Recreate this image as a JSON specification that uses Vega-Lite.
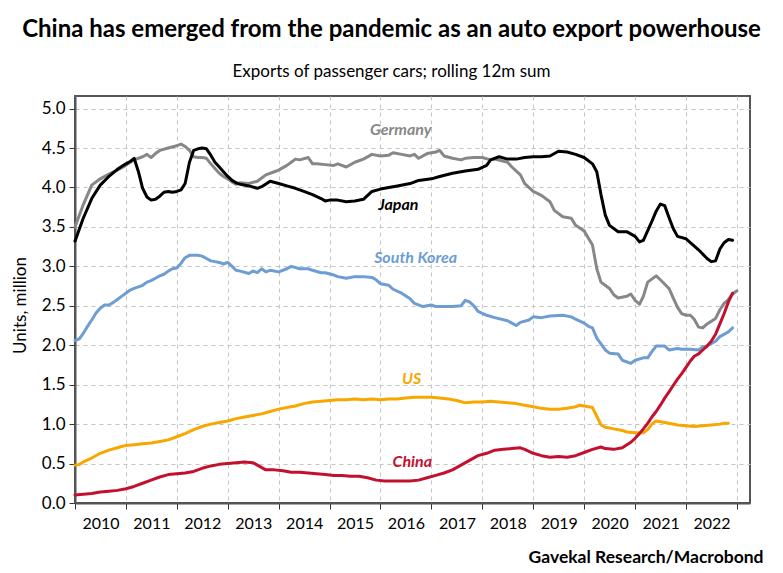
{
  "$schema": "https://vega.github.io/schema/vega-lite/v6.json",
  "width": 675,
  "height": 407,
  "autosize": {"type": "none"},
  "padding": {"left": 75, "top": 96, "right": 33, "bottom": 70},
  "background": "white",
  "config": {
    "font": "Lato, Liberation Sans, sans-serif",
    "view": {"stroke": "#555555", "strokeWidth": 2}
  },
  "title": {
    "text": "China has emerged from the pandemic as an auto export powerhouse",
    "subtitle": "Exports of passenger cars; rolling 12m sum",
    "anchor": "middle",
    "frame": "group",
    "dx": -21,
    "offset": 16,
    "font": "Lato, Liberation Sans, sans-serif",
    "subtitleFont": "Lato, Liberation Sans, sans-serif",
    "fontSize": 24,
    "fontWeight": "bold",
    "color": "#000000",
    "subtitleFontSize": 17,
    "subtitleColor": "#000000",
    "subtitlePadding": 22
  },
  "datasets": {
    "series": [
      {"country":"Germany","date":"2010-01","value":3.50},{"country":"Germany","date":"2010-03","value":3.78},{"country":"Germany","date":"2010-05","value":4.03},{"country":"Germany","date":"2010-07","value":4.11},{"country":"Germany","date":"2010-09","value":4.17},{"country":"Germany","date":"2010-11","value":4.22},{"country":"Germany","date":"2011-01","value":4.28},{"country":"Germany","date":"2011-02","value":4.32},{"country":"Germany","date":"2011-03","value":4.35},{"country":"Germany","date":"2011-05","value":4.39},{"country":"Germany","date":"2011-06","value":4.42},{"country":"Germany","date":"2011-07","value":4.38},{"country":"Germany","date":"2011-08","value":4.43},{"country":"Germany","date":"2011-09","value":4.47},{"country":"Germany","date":"2011-11","value":4.50},{"country":"Germany","date":"2012-01","value":4.53},{"country":"Germany","date":"2012-02","value":4.55},{"country":"Germany","date":"2012-03","value":4.52},{"country":"Germany","date":"2012-04","value":4.47},{"country":"Germany","date":"2012-05","value":4.39},{"country":"Germany","date":"2012-06","value":4.38},{"country":"Germany","date":"2012-07","value":4.38},{"country":"Germany","date":"2012-08","value":4.37},{"country":"Germany","date":"2012-09","value":4.30},{"country":"Germany","date":"2012-10","value":4.24},{"country":"Germany","date":"2012-11","value":4.18},{"country":"Germany","date":"2012-12","value":4.14},{"country":"Germany","date":"2013-01","value":4.11},{"country":"Germany","date":"2013-02","value":4.07},{"country":"Germany","date":"2013-03","value":4.04},{"country":"Germany","date":"2013-04","value":4.06},{"country":"Germany","date":"2013-06","value":4.05},{"country":"Germany","date":"2013-08","value":4.08},{"country":"Germany","date":"2013-10","value":4.16},{"country":"Germany","date":"2013-12","value":4.20},{"country":"Germany","date":"2014-01","value":4.22},{"country":"Germany","date":"2014-03","value":4.28},{"country":"Germany","date":"2014-04","value":4.32},{"country":"Germany","date":"2014-05","value":4.36},{"country":"Germany","date":"2014-06","value":4.35},{"country":"Germany","date":"2014-08","value":4.38},{"country":"Germany","date":"2014-09","value":4.30},{"country":"Germany","date":"2014-10","value":4.30},{"country":"Germany","date":"2014-12","value":4.29},{"country":"Germany","date":"2015-02","value":4.28},{"country":"Germany","date":"2015-03","value":4.30},{"country":"Germany","date":"2015-05","value":4.26},{"country":"Germany","date":"2015-07","value":4.32},{"country":"Germany","date":"2015-09","value":4.36},{"country":"Germany","date":"2015-11","value":4.42},{"country":"Germany","date":"2016-01","value":4.40},{"country":"Germany","date":"2016-03","value":4.41},{"country":"Germany","date":"2016-04","value":4.44},{"country":"Germany","date":"2016-06","value":4.42},{"country":"Germany","date":"2016-08","value":4.40},{"country":"Germany","date":"2016-09","value":4.42},{"country":"Germany","date":"2016-10","value":4.37},{"country":"Germany","date":"2016-12","value":4.43},{"country":"Germany","date":"2017-02","value":4.45},{"country":"Germany","date":"2017-03","value":4.47},{"country":"Germany","date":"2017-04","value":4.40},{"country":"Germany","date":"2017-06","value":4.37},{"country":"Germany","date":"2017-08","value":4.35},{"country":"Germany","date":"2017-09","value":4.37},{"country":"Germany","date":"2017-11","value":4.38},{"country":"Germany","date":"2018-01","value":4.38},{"country":"Germany","date":"2018-03","value":4.35},{"country":"Germany","date":"2018-04","value":4.36},{"country":"Germany","date":"2018-07","value":4.32},{"country":"Germany","date":"2018-08","value":4.26},{"country":"Germany","date":"2018-10","value":4.16},{"country":"Germany","date":"2018-11","value":4.05},{"country":"Germany","date":"2019-01","value":3.95},{"country":"Germany","date":"2019-03","value":3.90},{"country":"Germany","date":"2019-05","value":3.82},{"country":"Germany","date":"2019-06","value":3.71},{"country":"Germany","date":"2019-08","value":3.63},{"country":"Germany","date":"2019-10","value":3.61},{"country":"Germany","date":"2019-11","value":3.52},{"country":"Germany","date":"2020-01","value":3.45},{"country":"Germany","date":"2020-03","value":3.27},{"country":"Germany","date":"2020-04","value":2.97},{"country":"Germany","date":"2020-05","value":2.80},{"country":"Germany","date":"2020-07","value":2.72},{"country":"Germany","date":"2020-08","value":2.64},{"country":"Germany","date":"2020-09","value":2.60},{"country":"Germany","date":"2020-11","value":2.62},{"country":"Germany","date":"2020-12","value":2.65},{"country":"Germany","date":"2021-01","value":2.57},{"country":"Germany","date":"2021-02","value":2.52},{"country":"Germany","date":"2021-03","value":2.62},{"country":"Germany","date":"2021-04","value":2.80},{"country":"Germany","date":"2021-06","value":2.88},{"country":"Germany","date":"2021-07","value":2.83},{"country":"Germany","date":"2021-09","value":2.72},{"country":"Germany","date":"2021-10","value":2.60},{"country":"Germany","date":"2021-11","value":2.48},{"country":"Germany","date":"2021-12","value":2.40},{"country":"Germany","date":"2022-01","value":2.38},{"country":"Germany","date":"2022-02","value":2.38},{"country":"Germany","date":"2022-03","value":2.33},{"country":"Germany","date":"2022-04","value":2.23},{"country":"Germany","date":"2022-05","value":2.22},{"country":"Germany","date":"2022-06","value":2.27},{"country":"Germany","date":"2022-08","value":2.34},{"country":"Germany","date":"2022-09","value":2.45},{"country":"Germany","date":"2022-10","value":2.53},{"country":"Germany","date":"2022-11","value":2.58},{"country":"Germany","date":"2022-12","value":2.65},{"country":"Germany","date":"2023-01","value":2.69},
      {"country":"Japan","date":"2010-01","value":3.32},{"country":"Japan","date":"2010-03","value":3.61},{"country":"Japan","date":"2010-05","value":3.86},{"country":"Japan","date":"2010-07","value":4.03},{"country":"Japan","date":"2010-09","value":4.14},{"country":"Japan","date":"2010-11","value":4.23},{"country":"Japan","date":"2011-01","value":4.30},{"country":"Japan","date":"2011-02","value":4.33},{"country":"Japan","date":"2011-03","value":4.37},{"country":"Japan","date":"2011-04","value":4.20},{"country":"Japan","date":"2011-05","value":3.99},{"country":"Japan","date":"2011-06","value":3.88},{"country":"Japan","date":"2011-07","value":3.84},{"country":"Japan","date":"2011-08","value":3.85},{"country":"Japan","date":"2011-09","value":3.89},{"country":"Japan","date":"2011-10","value":3.94},{"country":"Japan","date":"2011-11","value":3.95},{"country":"Japan","date":"2011-12","value":3.94},{"country":"Japan","date":"2012-01","value":3.95},{"country":"Japan","date":"2012-02","value":3.97},{"country":"Japan","date":"2012-03","value":4.05},{"country":"Japan","date":"2012-04","value":4.32},{"country":"Japan","date":"2012-05","value":4.47},{"country":"Japan","date":"2012-06","value":4.49},{"country":"Japan","date":"2012-07","value":4.50},{"country":"Japan","date":"2012-08","value":4.49},{"country":"Japan","date":"2012-09","value":4.41},{"country":"Japan","date":"2012-10","value":4.32},{"country":"Japan","date":"2012-11","value":4.26},{"country":"Japan","date":"2012-12","value":4.20},{"country":"Japan","date":"2013-01","value":4.14},{"country":"Japan","date":"2013-02","value":4.09},{"country":"Japan","date":"2013-03","value":4.06},{"country":"Japan","date":"2013-04","value":4.04},{"country":"Japan","date":"2013-06","value":4.02},{"country":"Japan","date":"2013-08","value":3.99},{"country":"Japan","date":"2013-09","value":4.01},{"country":"Japan","date":"2013-11","value":4.08},{"country":"Japan","date":"2014-01","value":4.05},{"country":"Japan","date":"2014-03","value":4.02},{"country":"Japan","date":"2014-05","value":3.99},{"country":"Japan","date":"2014-07","value":3.95},{"country":"Japan","date":"2014-09","value":3.91},{"country":"Japan","date":"2014-11","value":3.86},{"country":"Japan","date":"2014-12","value":3.83},{"country":"Japan","date":"2015-01","value":3.84},{"country":"Japan","date":"2015-03","value":3.84},{"country":"Japan","date":"2015-05","value":3.82},{"country":"Japan","date":"2015-07","value":3.83},{"country":"Japan","date":"2015-09","value":3.85},{"country":"Japan","date":"2015-11","value":3.95},{"country":"Japan","date":"2016-01","value":3.98},{"country":"Japan","date":"2016-03","value":4.00},{"country":"Japan","date":"2016-05","value":4.02},{"country":"Japan","date":"2016-08","value":4.05},{"country":"Japan","date":"2016-10","value":4.09},{"country":"Japan","date":"2017-01","value":4.11},{"country":"Japan","date":"2017-03","value":4.14},{"country":"Japan","date":"2017-06","value":4.18},{"country":"Japan","date":"2017-09","value":4.21},{"country":"Japan","date":"2017-12","value":4.23},{"country":"Japan","date":"2018-02","value":4.28},{"country":"Japan","date":"2018-03","value":4.35},{"country":"Japan","date":"2018-05","value":4.39},{"country":"Japan","date":"2018-07","value":4.36},{"country":"Japan","date":"2018-09","value":4.36},{"country":"Japan","date":"2018-11","value":4.38},{"country":"Japan","date":"2019-01","value":4.39},{"country":"Japan","date":"2019-03","value":4.39},{"country":"Japan","date":"2019-05","value":4.40},{"country":"Japan","date":"2019-07","value":4.46},{"country":"Japan","date":"2019-09","value":4.45},{"country":"Japan","date":"2019-11","value":4.42},{"country":"Japan","date":"2020-01","value":4.38},{"country":"Japan","date":"2020-03","value":4.30},{"country":"Japan","date":"2020-04","value":4.20},{"country":"Japan","date":"2020-05","value":3.91},{"country":"Japan","date":"2020-06","value":3.65},{"country":"Japan","date":"2020-07","value":3.52},{"country":"Japan","date":"2020-09","value":3.44},{"country":"Japan","date":"2020-11","value":3.44},{"country":"Japan","date":"2021-01","value":3.38},{"country":"Japan","date":"2021-02","value":3.31},{"country":"Japan","date":"2021-03","value":3.33},{"country":"Japan","date":"2021-05","value":3.57},{"country":"Japan","date":"2021-06","value":3.70},{"country":"Japan","date":"2021-07","value":3.79},{"country":"Japan","date":"2021-08","value":3.77},{"country":"Japan","date":"2021-09","value":3.62},{"country":"Japan","date":"2021-10","value":3.48},{"country":"Japan","date":"2021-11","value":3.38},{"country":"Japan","date":"2022-01","value":3.35},{"country":"Japan","date":"2022-02","value":3.30},{"country":"Japan","date":"2022-04","value":3.21},{"country":"Japan","date":"2022-06","value":3.10},{"country":"Japan","date":"2022-07","value":3.06},{"country":"Japan","date":"2022-08","value":3.07},{"country":"Japan","date":"2022-09","value":3.22},{"country":"Japan","date":"2022-10","value":3.30},{"country":"Japan","date":"2022-11","value":3.34},{"country":"Japan","date":"2022-12","value":3.33},
      {"country":"South Korea","date":"2010-01","value":2.06},{"country":"South Korea","date":"2010-02","value":2.08},{"country":"South Korea","date":"2010-03","value":2.15},{"country":"South Korea","date":"2010-04","value":2.24},{"country":"South Korea","date":"2010-05","value":2.32},{"country":"South Korea","date":"2010-06","value":2.41},{"country":"South Korea","date":"2010-07","value":2.47},{"country":"South Korea","date":"2010-08","value":2.51},{"country":"South Korea","date":"2010-09","value":2.51},{"country":"South Korea","date":"2010-10","value":2.54},{"country":"South Korea","date":"2010-11","value":2.58},{"country":"South Korea","date":"2010-12","value":2.62},{"country":"South Korea","date":"2011-01","value":2.66},{"country":"South Korea","date":"2011-02","value":2.70},{"country":"South Korea","date":"2011-03","value":2.72},{"country":"South Korea","date":"2011-04","value":2.74},{"country":"South Korea","date":"2011-05","value":2.76},{"country":"South Korea","date":"2011-06","value":2.80},{"country":"South Korea","date":"2011-07","value":2.82},{"country":"South Korea","date":"2011-08","value":2.85},{"country":"South Korea","date":"2011-09","value":2.88},{"country":"South Korea","date":"2011-10","value":2.90},{"country":"South Korea","date":"2011-11","value":2.94},{"country":"South Korea","date":"2011-12","value":2.97},{"country":"South Korea","date":"2012-01","value":2.98},{"country":"South Korea","date":"2012-02","value":3.04},{"country":"South Korea","date":"2012-03","value":3.11},{"country":"South Korea","date":"2012-04","value":3.14},{"country":"South Korea","date":"2012-05","value":3.14},{"country":"South Korea","date":"2012-06","value":3.14},{"country":"South Korea","date":"2012-07","value":3.13},{"country":"South Korea","date":"2012-08","value":3.10},{"country":"South Korea","date":"2012-09","value":3.07},{"country":"South Korea","date":"2012-10","value":3.06},{"country":"South Korea","date":"2012-11","value":3.05},{"country":"South Korea","date":"2012-12","value":3.03},{"country":"South Korea","date":"2013-01","value":3.05},{"country":"South Korea","date":"2013-02","value":3.00},{"country":"South Korea","date":"2013-03","value":2.95},{"country":"South Korea","date":"2013-04","value":2.94},{"country":"South Korea","date":"2013-06","value":2.91},{"country":"South Korea","date":"2013-07","value":2.94},{"country":"South Korea","date":"2013-08","value":2.92},{"country":"South Korea","date":"2013-09","value":2.97},{"country":"South Korea","date":"2013-10","value":2.93},{"country":"South Korea","date":"2013-11","value":2.95},{"country":"South Korea","date":"2014-01","value":2.93},{"country":"South Korea","date":"2014-03","value":2.97},{"country":"South Korea","date":"2014-04","value":3.00},{"country":"South Korea","date":"2014-06","value":2.97},{"country":"South Korea","date":"2014-08","value":2.97},{"country":"South Korea","date":"2014-09","value":2.95},{"country":"South Korea","date":"2014-11","value":2.92},{"country":"South Korea","date":"2014-12","value":2.92},{"country":"South Korea","date":"2015-02","value":2.89},{"country":"South Korea","date":"2015-03","value":2.87},{"country":"South Korea","date":"2015-05","value":2.85},{"country":"South Korea","date":"2015-07","value":2.87},{"country":"South Korea","date":"2015-09","value":2.87},{"country":"South Korea","date":"2015-11","value":2.86},{"country":"South Korea","date":"2015-12","value":2.83},{"country":"South Korea","date":"2016-01","value":2.78},{"country":"South Korea","date":"2016-03","value":2.76},{"country":"South Korea","date":"2016-04","value":2.71},{"country":"South Korea","date":"2016-06","value":2.66},{"country":"South Korea","date":"2016-08","value":2.59},{"country":"South Korea","date":"2016-09","value":2.53},{"country":"South Korea","date":"2016-11","value":2.49},{"country":"South Korea","date":"2017-01","value":2.51},{"country":"South Korea","date":"2017-02","value":2.49},{"country":"South Korea","date":"2017-04","value":2.49},{"country":"South Korea","date":"2017-06","value":2.49},{"country":"South Korea","date":"2017-08","value":2.50},{"country":"South Korea","date":"2017-09","value":2.57},{"country":"South Korea","date":"2017-10","value":2.55},{"country":"South Korea","date":"2017-11","value":2.50},{"country":"South Korea","date":"2017-12","value":2.43},{"country":"South Korea","date":"2018-02","value":2.38},{"country":"South Korea","date":"2018-04","value":2.35},{"country":"South Korea","date":"2018-07","value":2.31},{"country":"South Korea","date":"2018-08","value":2.28},{"country":"South Korea","date":"2018-09","value":2.25},{"country":"South Korea","date":"2018-10","value":2.29},{"country":"South Korea","date":"2018-12","value":2.32},{"country":"South Korea","date":"2019-01","value":2.36},{"country":"South Korea","date":"2019-03","value":2.35},{"country":"South Korea","date":"2019-05","value":2.37},{"country":"South Korea","date":"2019-08","value":2.38},{"country":"South Korea","date":"2019-10","value":2.36},{"country":"South Korea","date":"2019-11","value":2.33},{"country":"South Korea","date":"2020-01","value":2.28},{"country":"South Korea","date":"2020-02","value":2.24},{"country":"South Korea","date":"2020-03","value":2.22},{"country":"South Korea","date":"2020-04","value":2.09},{"country":"South Korea","date":"2020-06","value":1.94},{"country":"South Korea","date":"2020-07","value":1.90},{"country":"South Korea","date":"2020-09","value":1.89},{"country":"South Korea","date":"2020-10","value":1.81},{"country":"South Korea","date":"2020-12","value":1.77},{"country":"South Korea","date":"2021-01","value":1.81},{"country":"South Korea","date":"2021-03","value":1.84},{"country":"South Korea","date":"2021-04","value":1.84},{"country":"South Korea","date":"2021-05","value":1.92},{"country":"South Korea","date":"2021-06","value":1.99},{"country":"South Korea","date":"2021-08","value":1.99},{"country":"South Korea","date":"2021-09","value":1.94},{"country":"South Korea","date":"2021-11","value":1.96},{"country":"South Korea","date":"2021-12","value":1.95},{"country":"South Korea","date":"2022-02","value":1.95},{"country":"South Korea","date":"2022-04","value":1.94},{"country":"South Korea","date":"2022-05","value":1.98},{"country":"South Korea","date":"2022-06","value":1.99},{"country":"South Korea","date":"2022-08","value":2.05},{"country":"South Korea","date":"2022-09","value":2.11},{"country":"South Korea","date":"2022-11","value":2.17},{"country":"South Korea","date":"2022-12","value":2.22},
      {"country":"US","date":"2010-01","value":0.48},{"country":"US","date":"2010-02","value":0.49},{"country":"US","date":"2010-03","value":0.52},{"country":"US","date":"2010-05","value":0.57},{"country":"US","date":"2010-07","value":0.63},{"country":"US","date":"2010-09","value":0.67},{"country":"US","date":"2010-11","value":0.70},{"country":"US","date":"2011-01","value":0.73},{"country":"US","date":"2011-03","value":0.74},{"country":"US","date":"2011-05","value":0.75},{"country":"US","date":"2011-07","value":0.76},{"country":"US","date":"2011-09","value":0.78},{"country":"US","date":"2011-11","value":0.80},{"country":"US","date":"2012-01","value":0.84},{"country":"US","date":"2012-03","value":0.88},{"country":"US","date":"2012-05","value":0.93},{"country":"US","date":"2012-07","value":0.97},{"country":"US","date":"2012-09","value":1.00},{"country":"US","date":"2012-11","value":1.02},{"country":"US","date":"2013-01","value":1.04},{"country":"US","date":"2013-03","value":1.07},{"country":"US","date":"2013-05","value":1.09},{"country":"US","date":"2013-07","value":1.11},{"country":"US","date":"2013-09","value":1.13},{"country":"US","date":"2013-11","value":1.16},{"country":"US","date":"2014-01","value":1.19},{"country":"US","date":"2014-03","value":1.21},{"country":"US","date":"2014-05","value":1.23},{"country":"US","date":"2014-07","value":1.26},{"country":"US","date":"2014-09","value":1.28},{"country":"US","date":"2014-11","value":1.29},{"country":"US","date":"2015-01","value":1.30},{"country":"US","date":"2015-03","value":1.31},{"country":"US","date":"2015-05","value":1.31},{"country":"US","date":"2015-07","value":1.32},{"country":"US","date":"2015-09","value":1.31},{"country":"US","date":"2015-11","value":1.32},{"country":"US","date":"2016-01","value":1.31},{"country":"US","date":"2016-03","value":1.32},{"country":"US","date":"2016-05","value":1.32},{"country":"US","date":"2016-07","value":1.33},{"country":"US","date":"2016-09","value":1.34},{"country":"US","date":"2016-11","value":1.34},{"country":"US","date":"2017-01","value":1.34},{"country":"US","date":"2017-03","value":1.33},{"country":"US","date":"2017-05","value":1.32},{"country":"US","date":"2017-07","value":1.30},{"country":"US","date":"2017-09","value":1.27},{"country":"US","date":"2017-11","value":1.28},{"country":"US","date":"2018-01","value":1.28},{"country":"US","date":"2018-03","value":1.29},{"country":"US","date":"2018-05","value":1.28},{"country":"US","date":"2018-07","value":1.27},{"country":"US","date":"2018-09","value":1.26},{"country":"US","date":"2018-11","value":1.24},{"country":"US","date":"2019-01","value":1.22},{"country":"US","date":"2019-03","value":1.20},{"country":"US","date":"2019-05","value":1.19},{"country":"US","date":"2019-07","value":1.19},{"country":"US","date":"2019-09","value":1.20},{"country":"US","date":"2019-11","value":1.22},{"country":"US","date":"2019-12","value":1.24},{"country":"US","date":"2020-01","value":1.23},{"country":"US","date":"2020-03","value":1.21},{"country":"US","date":"2020-04","value":1.10},{"country":"US","date":"2020-05","value":0.99},{"country":"US","date":"2020-06","value":0.96},{"country":"US","date":"2020-08","value":0.94},{"country":"US","date":"2020-10","value":0.92},{"country":"US","date":"2020-11","value":0.90},{"country":"US","date":"2021-01","value":0.89},{"country":"US","date":"2021-03","value":0.89},{"country":"US","date":"2021-04","value":0.93},{"country":"US","date":"2021-05","value":1.00},{"country":"US","date":"2021-06","value":1.04},{"country":"US","date":"2021-07","value":1.03},{"country":"US","date":"2021-09","value":1.01},{"country":"US","date":"2021-11","value":0.99},{"country":"US","date":"2022-01","value":0.98},{"country":"US","date":"2022-03","value":0.97},{"country":"US","date":"2022-05","value":0.98},{"country":"US","date":"2022-07","value":0.99},{"country":"US","date":"2022-09","value":1.00},{"country":"US","date":"2022-10","value":1.01},{"country":"US","date":"2022-11","value":1.01},
      {"country":"China","date":"2010-01","value":0.10},{"country":"China","date":"2010-03","value":0.11},{"country":"China","date":"2010-05","value":0.12},{"country":"China","date":"2010-07","value":0.14},{"country":"China","date":"2010-09","value":0.15},{"country":"China","date":"2010-11","value":0.16},{"country":"China","date":"2011-01","value":0.18},{"country":"China","date":"2011-03","value":0.21},{"country":"China","date":"2011-05","value":0.25},{"country":"China","date":"2011-07","value":0.29},{"country":"China","date":"2011-09","value":0.33},{"country":"China","date":"2011-11","value":0.36},{"country":"China","date":"2012-01","value":0.37},{"country":"China","date":"2012-03","value":0.38},{"country":"China","date":"2012-05","value":0.40},{"country":"China","date":"2012-07","value":0.44},{"country":"China","date":"2012-09","value":0.47},{"country":"China","date":"2012-11","value":0.49},{"country":"China","date":"2013-01","value":0.50},{"country":"China","date":"2013-03","value":0.51},{"country":"China","date":"2013-05","value":0.52},{"country":"China","date":"2013-07","value":0.51},{"country":"China","date":"2013-08","value":0.48},{"country":"China","date":"2013-10","value":0.42},{"country":"China","date":"2013-12","value":0.42},{"country":"China","date":"2014-02","value":0.41},{"country":"China","date":"2014-04","value":0.39},{"country":"China","date":"2014-06","value":0.39},{"country":"China","date":"2014-08","value":0.38},{"country":"China","date":"2014-10","value":0.37},{"country":"China","date":"2014-12","value":0.36},{"country":"China","date":"2015-02","value":0.35},{"country":"China","date":"2015-04","value":0.35},{"country":"China","date":"2015-06","value":0.34},{"country":"China","date":"2015-08","value":0.34},{"country":"China","date":"2015-10","value":0.32},{"country":"China","date":"2015-12","value":0.29},{"country":"China","date":"2016-02","value":0.28},{"country":"China","date":"2016-04","value":0.28},{"country":"China","date":"2016-06","value":0.28},{"country":"China","date":"2016-08","value":0.28},{"country":"China","date":"2016-10","value":0.29},{"country":"China","date":"2016-12","value":0.32},{"country":"China","date":"2017-02","value":0.35},{"country":"China","date":"2017-04","value":0.38},{"country":"China","date":"2017-06","value":0.42},{"country":"China","date":"2017-08","value":0.48},{"country":"China","date":"2017-10","value":0.54},{"country":"China","date":"2017-12","value":0.60},{"country":"China","date":"2018-02","value":0.63},{"country":"China","date":"2018-04","value":0.67},{"country":"China","date":"2018-06","value":0.68},{"country":"China","date":"2018-08","value":0.69},{"country":"China","date":"2018-10","value":0.70},{"country":"China","date":"2018-11","value":0.68},{"country":"China","date":"2019-01","value":0.63},{"country":"China","date":"2019-03","value":0.60},{"country":"China","date":"2019-05","value":0.58},{"country":"China","date":"2019-07","value":0.59},{"country":"China","date":"2019-09","value":0.58},{"country":"China","date":"2019-11","value":0.60},{"country":"China","date":"2020-01","value":0.64},{"country":"China","date":"2020-03","value":0.68},{"country":"China","date":"2020-05","value":0.71},{"country":"China","date":"2020-06","value":0.69},{"country":"China","date":"2020-08","value":0.68},{"country":"China","date":"2020-10","value":0.70},{"country":"China","date":"2020-12","value":0.77},{"country":"China","date":"2021-01","value":0.82},{"country":"China","date":"2021-02","value":0.88},{"country":"China","date":"2021-03","value":0.94},{"country":"China","date":"2021-04","value":1.01},{"country":"China","date":"2021-05","value":1.09},{"country":"China","date":"2021-06","value":1.16},{"country":"China","date":"2021-07","value":1.24},{"country":"China","date":"2021-08","value":1.33},{"country":"China","date":"2021-09","value":1.41},{"country":"China","date":"2021-10","value":1.49},{"country":"China","date":"2021-11","value":1.57},{"country":"China","date":"2021-12","value":1.64},{"country":"China","date":"2022-01","value":1.72},{"country":"China","date":"2022-02","value":1.80},{"country":"China","date":"2022-03","value":1.86},{"country":"China","date":"2022-04","value":1.89},{"country":"China","date":"2022-05","value":1.94},{"country":"China","date":"2022-06","value":1.99},{"country":"China","date":"2022-07","value":2.05},{"country":"China","date":"2022-08","value":2.14},{"country":"China","date":"2022-09","value":2.27},{"country":"China","date":"2022-10","value":2.40},{"country":"China","date":"2022-11","value":2.55},{"country":"China","date":"2022-12","value":2.66}
    ],
    "labels": [
      {"country":"Germany","date":"2016-05-26","value":4.725},
      {"country":"Japan","date":"2016-05-08","value":3.783},
      {"country":"South Korea","date":"2016-09-09","value":3.111},
      {"country":"US","date":"2016-08-12","value":1.577},
      {"country":"China","date":"2016-08-16","value":0.520}
    ]
  },
  "layer": [
    {
      "data": {"name": "series"},
      "mark": {"type": "line", "strokeWidth": 3, "strokeJoin": "round", "strokeCap": "round"},
      "encoding": {
        "x": {
          "field": "date",
          "type": "temporal",
          "scale": {
            "type": "utc",
            "domain": [
              {"year": 2010, "month": 1, "date": 1, "utc": true},
              {"year": 2023, "month": 4, "date": 5, "utc": true}
            ]
          },
          "axis": {
            "tickCount": {"interval": "year", "step": 1},
            "labelExpr": "utcyear(datum.value) > 2022 ? '' : utcFormat(datum.value, '%Y')",
            "labelOffset": 25.5,
            "labelAlign": "center",
            "labelFlush": false,
            "labelOverlap": false,
            "labelFontSize": 16,
            "labelColor": "#000000",
            "labelPadding": 6,
            "tickSize": 6,
            "tickColor": "#333333",
            "domainColor": "#555555",
            "domainWidth": 2,
            "grid": true,
            "gridDash": [4, 4],
            "gridColor": "#c4c4c4",
            "gridWidth": 1,
            "title": "Gavekal Research/Macrobond",
            "titleAnchor": "end",
            "titleAlign": "right",
            "titleX": 688,
            "titleY": 59,
            "titleBaseline": "alphabetic",
            "titleFontSize": 17.5,
            "titleFontWeight": "bold",
            "titleColor": "#000000"
          }
        },
        "y": {
          "field": "value",
          "type": "quantitative",
          "scale": {"domain": [0, 5.16], "nice": false, "zero": true},
          "axis": {
            "values": [0, 0.5, 1, 1.5, 2, 2.5, 3, 3.5, 4, 4.5, 5],
            "format": ".1f",
            "labelFontSize": 17,
            "labelColor": "#000000",
            "labelPadding": 4,
            "tickSize": 6,
            "tickColor": "#333333",
            "domainColor": "#555555",
            "domainWidth": 2,
            "grid": true,
            "gridDash": [4, 4],
            "gridColor": "#c4c4c4",
            "gridWidth": 1,
            "title": "Units, million",
            "titleFontSize": 17,
            "titleFontWeight": "normal",
            "titleColor": "#000000",
            "titleX": -55,
            "titleY": 209,
            "titleBaseline": "middle",
            "titleAlign": "center"
          }
        },
        "color": {
          "field": "country",
          "type": "nominal",
          "scale": {
            "domain": ["Germany", "Japan", "South Korea", "US", "China"],
            "range": ["#878787", "#000000", "#6d9dd3", "#f8a700", "#c4102f"]
          },
          "legend": null
        }
      }
    },
    {
      "data": {"name": "labels"},
      "mark": {"type": "text", "fontSize": 16, "fontWeight": "bold", "fontStyle": "italic", "align": "center", "baseline": "middle"},
      "encoding": {
        "x": {"field": "date", "type": "temporal"},
        "y": {"field": "value", "type": "quantitative"},
        "text": {"field": "country"},
        "color": {"field": "country", "type": "nominal", "legend": null}
      }
    }
  ]
}
